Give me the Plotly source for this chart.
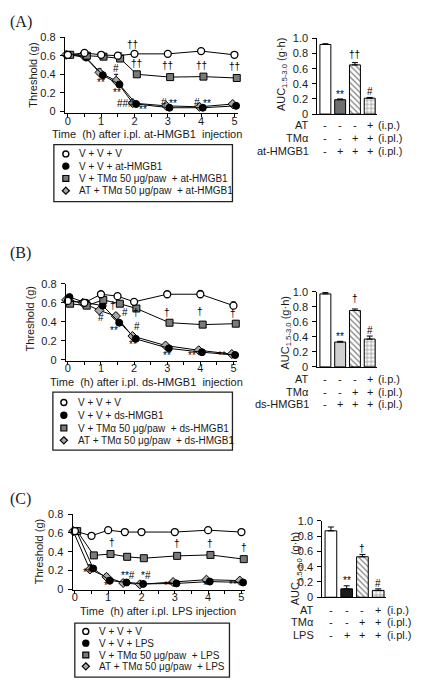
import plotly.graph_objects as go

W, H = 422, 690
FONT = "Liberation Sans, Arial, sans-serif"
SERIF = "Liberation Serif, Times New Roman, serif"
TXT = "#1a1a1a"

# ---------------- data ----------------
times = [0, 0.5, 1, 1.5, 2, 3, 4, 5]
x_ticks = [0, 1, 2, 3, 4, 5]
y_line_ticks = [0, 0.2, 0.4, 0.6, 0.8]
y_line_text = ["0", "0.2", "0.4", "0.6", "0.8"]
y_bar_ticks = [0, 0.2, 0.4, 0.6, 0.8, 1.0]
y_bar_text = ["0", "0.2", "0.4", "0.6", "0.8", "1.0"]

# Panel A (at-HMGB1)
A_vvv = [0.61, 0.63, 0.61, 0.60, 0.62, 0.62, 0.65, 0.61]
A_vvv_err = [0.02, 0.01, 0.02, 0.02, 0.01, 0.01, 0.01, 0.01]
A_hm = [0.61, 0.58, 0.39, 0.29, 0.08, 0.04, 0.04, 0.06]
A_hm_err = [0.02, 0.01, 0.03, 0.03, 0.01, 0.01, 0.01, 0.01]
A_tm = [0.61, 0.60, 0.59, 0.57, 0.40, 0.37, 0.375, 0.36]
A_tm_err = [0.03, 0.01, 0.02, 0.06, 0.03, 0.02, 0.02, 0.02]
A_at = [0.61, 0.61, 0.42, 0.33, 0.09, 0.06, 0.05, 0.08]
A_at_err = [0.02, 0.01, 0.04, 0.07, 0.01, 0.01, 0.01, 0.01]
A_auc = [0.92, 0.19, 0.65, 0.21]
A_auc_err = [0.01, 0.01, 0.03, 0.01]

# Panel B (ds-HMGB1)
B_vvv = [0.62, 0.60, 0.69, 0.67, 0.61, 0.69, 0.69, 0.57]
B_vvv_err = [0.02, 0.02, 0.02, 0.02, 0.03, 0.02, 0.04, 0.04]
B_hm = [0.66, 0.60, 0.57, 0.39, 0.22, 0.12, 0.08, 0.05]
B_hm_err = [0.02, 0.01, 0.02, 0.02, 0.02, 0.01, 0.01, 0.01]
B_tm = [0.59, 0.57, 0.63, 0.59, 0.54, 0.39, 0.37, 0.38]
B_tm_err = [0.02, 0.02, 0.02, 0.02, 0.02, 0.02, 0.02, 0.02]
B_at = [0.63, 0.60, 0.52, 0.46, 0.25, 0.15, 0.10, 0.06]
B_at_err = [0.02, 0.02, 0.02, 0.03, 0.02, 0.01, 0.01, 0.01]
B_auc = [0.97, 0.33, 0.75, 0.37]
B_auc_err = [0.02, 0.01, 0.02, 0.04]

# Panel C (LPS)
C_vvv = [0.62, 0.57, 0.63, 0.61, 0.61, 0.61, 0.63, 0.61]
C_vvv_err = [0.02, 0.01, 0.01, 0.01, 0.01, 0.01, 0.03, 0.01]
C_hm = [0.62, 0.22, 0.09, 0.07, 0.055, 0.06, 0.08, 0.07]
C_hm_err = [0.02, 0.02, 0.02, 0.01, 0.01, 0.01, 0.01, 0.01]
C_tm = [0.62, 0.36, 0.375, 0.345, 0.33, 0.355, 0.365, 0.32]
C_tm_err = [0.02, 0.01, 0.01, 0.01, 0.01, 0.01, 0.01, 0.01]
C_at = [0.62, 0.21, 0.13, 0.065, 0.05, 0.075, 0.10, 0.09]
C_at_err = [0.02, 0.05, 0.03, 0.01, 0.01, 0.01, 0.01, 0.01]
C_auc = [0.87, 0.11, 0.53, 0.09]
C_auc_err = [0.05, 0.04, 0.03, 0.02]

# significance marks (time, threshold, text)
A_sig = [(1.95, 0.72, "††"), (2.05, 0.52, "††"), (3.0, 0.49, "††"), (4.0, 0.49, "††"),
         (5.0, 0.48, "††"), (1.0, 0.31, "**"), (1.45, 0.46, "#"), (1.48, 0.20, "**"),
         (1.72, 0.085, "###"), (2.25, 0.02, "**"), (2.88, 0.10, "#"), (3.17, 0.085, "**"),
         (3.88, 0.10, "#"), (4.18, 0.085, "**"), (5.25, 0.09, "**")]
B_sig = [(1.0, 0.44, "#"), (1.4, 0.31, "**"), (1.36, 0.57, "†"), (1.72, 0.50, "#"),
         (2.05, 0.50, "†"), (2.1, 0.35, "#"), (1.97, 0.16, "**"), (3.0, 0.50, "†"),
         (4.0, 0.51, "†"), (5.0, 0.49, "†"), (3.0, 0.04, "**"), (3.75, 0.04, "**"),
         (4.65, 0.04, "**"), (5.2, 0.10, "#")]
C_sig = [(1.12, 0.50, "†"), (3.06, 0.49, "†"), (4.06, 0.49, "†"), (5.08, 0.44, "†"),
         (0.36, 0.175, "**"), (1.0, 0.04, "**"), (1.6, 0.15, "**#"), (2.15, 0.14, "*#"),
         (2.8, 0.04, "**"), (3.98, 0.04, "**"), (4.75, 0.045, "**")]

A_bar_sig = ["", "**", "††", "#"]
A_bar_sig_y = [0, 0.26, 0.79, 0.30]
B_bar_sig = ["", "**", "†", "#"]
B_bar_sig_y = [0, 0.41, 0.91, 0.49]
C_bar_sig = ["", "**", "†", "#"]
C_bar_sig_y = [0, 0.22, 0.64, 0.18]

row_AT = ["-", "-", "-", "+"]
row_TM = ["-", "-", "+", "+"]
row_ST = ["-", "+", "+", "+"]
row_suffix = ["(i.p.)", "(i.pl.)", "(i.pl.)"]

A_rows = ["AT", "TMα", "at-HMGB1"]
B_rows = ["AT", "TMα", "ds-HMGB1"]
C_rows = ["AT", "TMα", "LPS"]

A_legend = ["V + V + V", "V + V + at-HMGB1", "V + TMα 50 μg/paw\u00a0 + at-HMGB1",
            "AT + TMα 50 μg/paw\u00a0 + at-HMGB1"]
B_legend = ["V + V + V", "V + V + ds-HMGB1", "V + TMα 50 μg/paw\u00a0 + ds-HMGB1",
            "AT + TMα 50 μg/paw\u00a0 + ds-HMGB1"]
C_legend = ["V + V + V", "V + V + LPS", "V + TMα 50 μg/paw\u00a0 + LPS",
            "AT + TMα 50 μg/paw\u00a0 + LPS"]

# ---------------- helpers ----------------
def fx(x):
    return x / W


def fy(y):
    return 1 - y / H


fig = go.Figure()
annotations = []
shapes = []
layout_axes = {}

STYLES = {
    "at": dict(symbol="diamond", color="#a8a8a8", size=7, line=dict(color="black", width=1)),
    "hm": dict(symbol="circle", color="black", size=7, line=dict(color="black", width=1)),
    "tm": dict(symbol="square", color="#7a7a7a", size=7, line=dict(color="black", width=1)),
    "vvv": dict(symbol="circle", color="white", size=7, line=dict(color="black", width=1.3)),
}
OFFS = {"at": -0.05, "hm": 0.05, "tm": 0.07, "vvv": 0.0}


def ann(**kw):
    d = dict(showarrow=False, xanchor="center", yanchor="middle")
    d.update(kw)
    annotations.append(d)


def axname(n, k):
    return f"{k}axis" if n == 1 else f"{k}axis{n}"


def ref(n, k):
    return k if n == 1 else f"{k}{n}"


def line_panel(n, series, xdom, ydom, xr, yr, sig):
    xa, ya = ref(n, "x"), ref(n, "y")
    for key, vals, errs in series:
        fig.add_trace(go.Scatter(
            x=[t + OFFS[key] for t in times], y=vals, mode="lines+markers",
            xaxis=xa, yaxis=ya, showlegend=False, cliponaxis=False,
            line=dict(color="black", width=1), marker=STYLES[key],
            error_y=dict(type="data", array=errs, arrayminus=[0] * len(errs),
                         symmetric=False, color="black", thickness=1, width=2)))
    layout_axes[axname(n, "x")] = dict(
        domain=[fx(xdom[0]), fx(xdom[1])], anchor=ya, range=xr, showline=True,
        linecolor="black", linewidth=1, ticks="outside", ticklen=3, tickcolor="black",
        tickvals=x_ticks, showgrid=False, zeroline=False, ticklabelstandoff=-6,
        tickfont=dict(family=FONT, size=11, color=TXT),
        minor=dict(tickvals=[0.5, 1.5, 2.5, 3.5, 4.5], ticks="outside", ticklen=3,
                   tickcolor="black", showgrid=False))
    layout_axes[axname(n, "y")] = dict(
        domain=[fy(ydom[1]), fy(ydom[0])], anchor=xa, range=yr, showline=True,
        linecolor="black", linewidth=1, ticks="outside", ticklen=4, tickcolor="black",
        tickvals=y_line_ticks, ticktext=y_line_text, showgrid=False, zeroline=False,
        tickfont=dict(family=FONT, size=11, color=TXT), ticklabelstandoff=2)
    for t, v, s in sig:
        ann(x=t, y=v, xref=xa, yref=ya, text=s,
            font=dict(family=FONT, size=10, color="black"))


def bar_panel(n, vals, errs, colors, pats, xdom, ydom, sig, sig_y,
              rows, rows_y, row_right, title_x, title_y, title):
    xa, ya = ref(n, "x"), ref(n, "y")
    for i in range(len(vals)):
        mk = dict(color=colors[i], line=dict(color="black", width=1))
        if pats[i]:
            mk["pattern"] = dict(shape=pats[i], bgcolor="white", fgcolor="black",
                                 size=4, solidity=0.3)
        fig.add_trace(go.Bar(
            x=[i], y=[vals[i]], xaxis=xa, yaxis=ya, width=0.74, showlegend=False,
            marker=mk,
            error_y=dict(type="data", array=[errs[i]], arrayminus=[0], symmetric=False,
                         color="black", thickness=1, width=3)))
    layout_axes[axname(n, "x")] = dict(
        domain=[fx(xdom[0]), fx(xdom[1])], anchor=ya, range=[-0.55, 3.5], showline=True,
        linecolor="black", linewidth=1, showticklabels=False, ticks="", showgrid=False,
        zeroline=False)
    layout_axes[axname(n, "y")] = dict(
        domain=[fy(ydom[1]), fy(ydom[0])], anchor=xa, range=[0, 1.0], showline=True,
        linecolor="black", linewidth=1, ticks="outside", ticklen=4, tickcolor="black",
        tickvals=y_bar_ticks, ticktext=y_bar_text, showgrid=False, zeroline=False,
        tickfont=dict(family=FONT, size=11, color=TXT), ticklabelstandoff=2)
    for i, (s, v) in enumerate(zip(sig, sig_y)):
        if s:
            ann(x=i, y=v, xref=xa, yref=ya, text=s,
                font=dict(family=FONT, size=10, color="black"))
    for r, (label, signs, suf) in enumerate(zip(rows, [row_AT, row_TM, row_ST], row_suffix)):
        yy = fy(rows_y[r])
        ann(x=fx(row_right), y=yy, xref="paper", yref="paper", text=label,
            xanchor="right", font=dict(family=FONT, size=11, color=TXT))
        for i, s in enumerate(signs):
            ann(x=i, y=yy, xref=xa, yref="paper", text=s,
                font=dict(family=FONT, size=11, color=TXT))
        ann(x=3.45, y=yy, xref=xa, yref="paper", text=suf, xanchor="left",
            font=dict(family=FONT, size=11, color=TXT))
    ann(x=fx(title_x), y=fy(title_y), xref="paper", yref="paper", text=title,
        textangle=-90, font=dict(family=FONT, size=11, color=TXT))


def legend_box(box, items_y, labels, mx, tx):
    x0, y0, x1, y1 = box
    shapes.append(dict(type="rect", xref="paper", yref="paper", x0=fx(x0), x1=fx(x1),
                       y0=fy(y0), y1=fy(y1), line=dict(color="#222", width=1.3)))
    r = 3.0
    kinds = ["vvv", "hm", "tm", "at"]
    for yi, lab, k in zip(items_y, labels, kinds):
        if k in ("vvv", "hm"):
            shapes.append(dict(type="circle", xref="paper", yref="paper",
                               x0=fx(mx - r), x1=fx(mx + r), y0=fy(yi - r), y1=fy(yi + r),
                               fillcolor="white" if k == "vvv" else "black",
                               line=dict(color="black", width=1.4)))
        elif k == "tm":
            shapes.append(dict(type="rect", xref="paper", yref="paper",
                               x0=fx(mx - r), x1=fx(mx + r), y0=fy(yi - r), y1=fy(yi + r),
                               fillcolor="#7a7a7a", line=dict(color="black", width=1.2)))
        else:
            d = 3.6
            path = (f"M {fx(mx)} {fy(yi - d)} L {fx(mx + d)} {fy(yi)} "
                    f"L {fx(mx)} {fy(yi + d)} L {fx(mx - d)} {fy(yi)} Z")
            shapes.append(dict(type="path", xref="paper", yref="paper", path=path,
                               fillcolor="#a8a8a8", line=dict(color="black", width=1.2)))
        ann(x=fx(tx), y=fy(yi), xref="paper", yref="paper", text=lab, xanchor="left",
            font=dict(family=FONT, size=10, color=TXT))


def text_at(x, y, s, size=11, family=FONT, angle=0, anchor="center"):
    ann(x=fx(x), y=fy(y), xref="paper", yref="paper", text=s, textangle=angle,
        xanchor=anchor, font=dict(family=family, size=size, color=TXT))


AUC_T = "AUC<sub>1.5-3.0</sub> (g·h)"
PATS = ["", "", "\\", "+"]

# ---------------- Panel A ----------------
line_panel(1, [("at", A_at, A_at_err), ("hm", A_hm, A_hm_err), ("tm", A_tm, A_tm_err),
               ("vvv", A_vvv, A_vvv_err)],
           (64, 238), (31.7, 109.2), [-0.09, 5.12], [-0.02, 0.8], A_sig)
bar_panel(2, A_auc, A_auc_err, ["white", "#6e6e6e", "white", "white"], PATS,
          (317, 377), (33, 110), A_bar_sig, A_bar_sig_y,
          A_rows, [121.5, 134.5, 147.5], 311, 281, 70, AUC_T)
text_at(20, 16, "(A)", size=16, family=SERIF)
text_at(32, 70, "Threshold (g)", angle=-90)
text_at(146, 130, "Time\u00a0 (h) after i.pl. at-HMGB1\u00a0 injection")
legend_box((53, 141, 232, 199), [150.5, 163, 175.5, 188], A_legend, 65, 76)

# ---------------- Panel B ----------------
line_panel(3, [("at", B_at, B_at_err), ("hm", B_hm, B_hm_err), ("tm", B_tm, B_tm_err),
               ("vvv", B_vvv, B_vvv_err)],
           (65, 237), (282.7, 361), [-0.06, 5.12], [-0.01, 0.8], B_sig)
bar_panel(4, B_auc, B_auc_err, ["white", "#cfcfcf", "white", "white"], PATS,
          (317, 377), (290.7, 367.3), B_bar_sig, B_bar_sig_y,
          B_rows, [379.5, 392.5, 405.5], 311, 286, 333, AUC_T)
text_at(20, 251, "(B)", size=16, family=SERIF)
text_at(30, 318, "Threshold (g)", angle=-90)
text_at(146, 383, "Time\u00a0 (h) after i.pl. ds-HMGB1\u00a0 injection")
legend_box((52, 393, 232, 452), [403.5, 416.5, 429.5, 442], B_legend, 63, 75)

# ---------------- Panel C ----------------
line_panel(5, [("at", C_at, C_at_err), ("hm", C_hm, C_hm_err), ("tm", C_tm, C_tm_err),
               ("vvv", C_vvv, C_vvv_err)],
           (71.7, 245), (517.3, 594.3), [-0.07, 5.12], [-0.01, 0.8], C_sig)
bar_panel(6, C_auc, C_auc_err, ["white", "#1c1c1c", "white", "white"], PATS,
          (322, 386), (524, 601.7),
          C_bar_sig, C_bar_sig_y, C_rows, [614.5, 627, 640], 316, 296, 573, AUC_T)
text_at(20, 502, "(C)", size=16, family=SERIF)
text_at(38, 555, "Threshold (g)", angle=-90)
text_at(157, 616, "Time\u00a0 (h) after i.pl. LPS injection")
legend_box((74, 628, 229, 683), [636.5, 648.5, 660.5, 672], C_legend, 85, 96)

fig.update_layout(
    width=W, height=H, margin=dict(l=0, r=0, t=0, b=0), autosize=False,
    paper_bgcolor="white", plot_bgcolor="white", showlegend=False,
    font=dict(family=FONT, size=11, color=TXT),
    annotations=annotations, shapes=shapes, **layout_axes)

fig.write_html("out.html")
